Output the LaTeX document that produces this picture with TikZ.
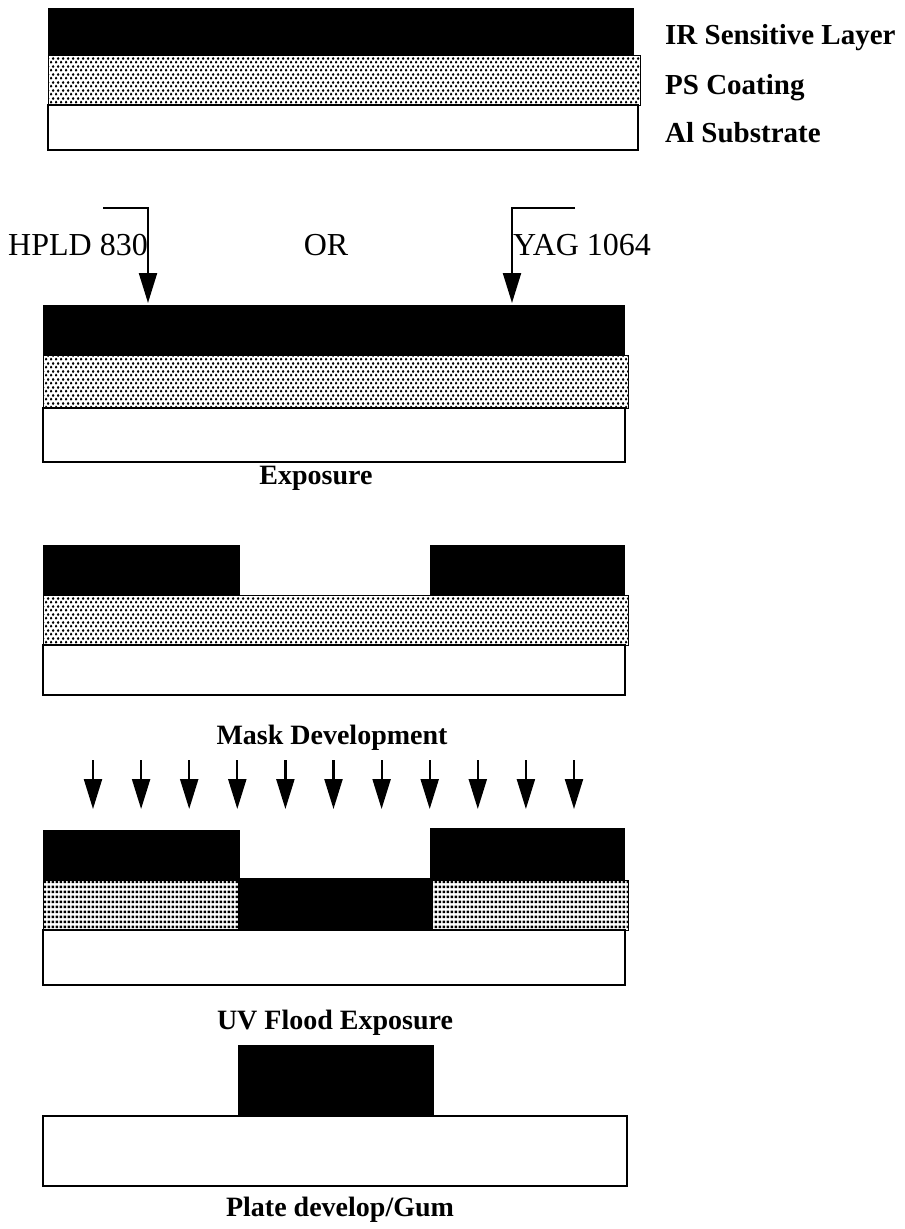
\documentclass[tikz,border=0pt]{standalone}
\usepackage{fontspec}
\setmainfont{Liberation Serif}
\usetikzlibrary{arrows.meta,patterns.meta}
\tikzdeclarepattern{
  name=stipple,
  type=uncolored,
  bounding box={(0pt,0pt) and (5pt,7.6pt)},
  tile size={(5pt,7.6pt)},
  code={
    \fill (1.25pt,1.9pt) circle (1.6pt);
    \fill (3.75pt,5.7pt) circle (1.6pt);
  }
}
\tikzdeclarepattern{
  name=gridstipple,
  type=uncolored,
  bounding box={(0pt,0pt) and (4.3pt,5pt)},
  tile size={(4.3pt,5pt)},
  code={
    \fill (0.6pt,0.9pt) rectangle (3.6pt,4.1pt);
  }
}
\tikzset{
  irlayer/.style={fill=black},
  pslayer/.style={draw,line width=0.8pt,pattern=stipple},
  psfine/.style={draw,line width=0.8pt,pattern=gridstipple},
  substrate/.style={draw,line width=1.2pt},
  caption/.style={font=\fontsize{28}{32}\selectfont\bfseries,inner sep=0pt},
  layerlabel/.style={font=\fontsize{29}{34}\selectfont\bfseries,inner sep=0pt,anchor=west},
  laser/.style={font=\fontsize{32}{38}\selectfont,inner sep=0pt},
  beam/.style={line width=2.2pt,-{Triangle[width=18pt,length=30pt]}},
}
\begin{document}
\begin{tikzpicture}[x=1pt,y=-1pt]
  \useasboundingbox (0,0) rectangle (905,1229);
  % plate layers
  \fill[irlayer] (48,8) rectangle (634,55);
  \draw[pslayer] (48,55) rectangle (640,105);
  \draw[substrate] (48,105) rectangle (638,150);
  \node[layerlabel] (irlabel) at (665,38) {IR Sensitive Layer};
  \node[layerlabel] (pslabel) at (665,88) {PS Coating};
  \node[layerlabel] (allabel) at (665,133) {Al Substrate};
  % laser sources
  \coordinate (hpldstart) at (103,208);
  \coordinate (hpldbend)  at (148,208);
  \coordinate (hpldtip)   at (148,303);
  \coordinate (yagstart)  at (575,208);
  \coordinate (yagbend)   at (512,208);
  \coordinate (yagtip)    at (512,303);
  \draw[beam] (hpldstart) -- (hpldbend) -- (hpldtip);
  \draw[beam] (yagstart) -- (yagbend) -- (yagtip);
  \node[laser,anchor=west] (hpld) at (8,245) {HPLD 830};
  \node[laser] (or) at (326,245) {OR};
  \node[laser,anchor=west] (yag) at (513,245) {YAG 1064};
  % exposure
  \fill[irlayer] (43,305) rectangle (625,355);
  \draw[pslayer] (43,355) rectangle (628,408);
  \draw[substrate] (43,408) rectangle (625,462);
  \node[caption] (exposure) at (316,478) {Exposure};
  % mask development
  \fill[irlayer] (43,545) rectangle (240,595);
  \fill[irlayer] (430,545) rectangle (625,595);
  \draw[pslayer] (43,595) rectangle (628,645);
  \draw[substrate] (43,645) rectangle (625,695);
  \node[caption] (maskdev) at (332,738) {Mask Development};
  % uv flood
  \foreach \i in {0,...,10} {
    \coordinate (uvtop\i) at (93+48.1*\i,760);
    \coordinate (uvtip\i) at (93+48.1*\i,809);
    \draw[beam] (uvtop\i) -- (uvtip\i);
  }
  \fill[irlayer] (43,830) rectangle (240,880);
  \fill[irlayer] (430,828) rectangle (625,880);
  \fill[irlayer] (238,878) rectangle (432,930);
  \draw[psfine] (43,880) rectangle (238,930);
  \draw[psfine] (432,880) rectangle (628,930);
  \draw[substrate] (43,930) rectangle (625,985);
  \node[caption] (uvflood) at (335,1023) {UV Flood Exposure};
  % plate develop
  \fill[irlayer] (238,1045) rectangle (434,1116);
  \draw[substrate] (43,1116) rectangle (627,1186);
  \node[caption] (platedev) at (340,1210) {Plate develop/Gum};
\end{tikzpicture}
\end{document}
